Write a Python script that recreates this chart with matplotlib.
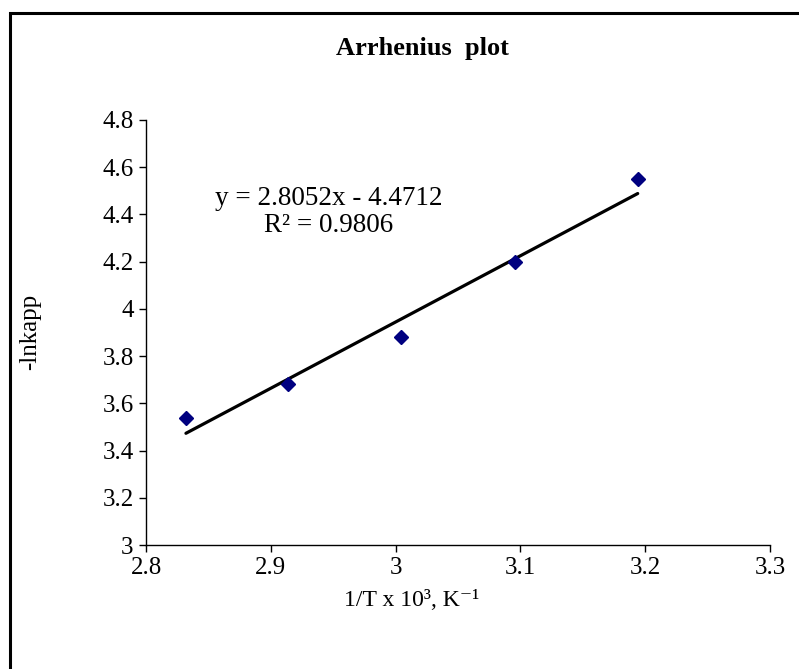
import matplotlib.pyplot as plt
from matplotlib.patches import Rectangle

# 1/T x 10^3 (K^-1) and -ln(k_app) readings
inv_T = [2.832, 2.914, 3.004, 3.096, 3.194]
neg_ln_k = [3.54, 3.68, 3.88, 4.20, 4.55]

# linear trendline as reported
slope = 2.8052
intercept = -4.4712
r_squared = 0.9806

x_ticks = [2.8, 2.9, 3.0, 3.1, 3.2, 3.3]
x_tick_labels = ['2.8', '2.9', '3', '3.1', '3.2', '3.3']
y_ticks = [3.0, 3.2, 3.4, 3.6, 3.8, 4.0, 4.2, 4.4, 4.6, 4.8]
y_tick_labels = ['3', '3.2', '3.4', '3.6', '3.8', '4', '4.2', '4.4', '4.6', '4.8']

plt.rcParams['font.family'] = ['Liberation Serif', 'DejaVu Serif']

fig = plt.figure(figsize=(7.99, 6.69), dpi=100)
ax = fig.add_axes([146 / 799, 1 - 545 / 669, 624 / 799, 425 / 669])

# chart border (runs off the right and bottom edges)
fig.patches.append(Rectangle((10 / 799, -0.05), 1.0, 1 - 13 / 669 + 0.05,
                             transform=fig.transFigure, fill=False,
                             edgecolor='black', lw=2.2, zorder=0))

x_fit = [min(inv_T), max(inv_T)]
y_fit = [slope * x + intercept for x in x_fit]
ax.plot(x_fit, y_fit, color='black', lw=2.3, solid_capstyle='round', zorder=2)
ax.plot(inv_T, neg_ln_k, linestyle='none', marker='D', markersize=7.5,
        color='#000080', zorder=3)

ax.set_xlim(2.8, 3.3)
ax.set_ylim(3.0, 4.8)
ax.set_xticks(x_ticks)
ax.set_xticklabels(x_tick_labels)
ax.set_yticks(y_ticks)
ax.set_yticklabels(y_tick_labels)
ax.tick_params(direction='out', length=5, width=1, labelsize=18, pad=4)

for side in ('top', 'right'):
    ax.spines[side].set_visible(False)
for side in ('left', 'bottom'):
    ax.spines[side].set_linewidth(1)

# trendline equation, two lines
ax.text(2.9465, 4.468, f'y = {slope}x - {-intercept}',
        ha='center', va='center', fontsize=19.5)
ax.text(2.9465, 4.352, f'R\u00b2 = {r_squared}',
        ha='center', va='center', fontsize=19.5)

fig.text(422 / 799, 1 - 48 / 669, 'Arrhenius  plot', ha='center', va='center',
         fontsize=19, fontweight='bold')
fig.text(30 / 799, 1 - 332 / 669, '-lnkapp', ha='center', va='center',
         rotation=90, fontsize=18)
fig.text(412 / 799, 1 - 601 / 669, '1/T x 10\u00b3, K\u207b\u00b9', ha='center',
         va='center', fontsize=17)

fig.savefig('out.png', dpi=100)
